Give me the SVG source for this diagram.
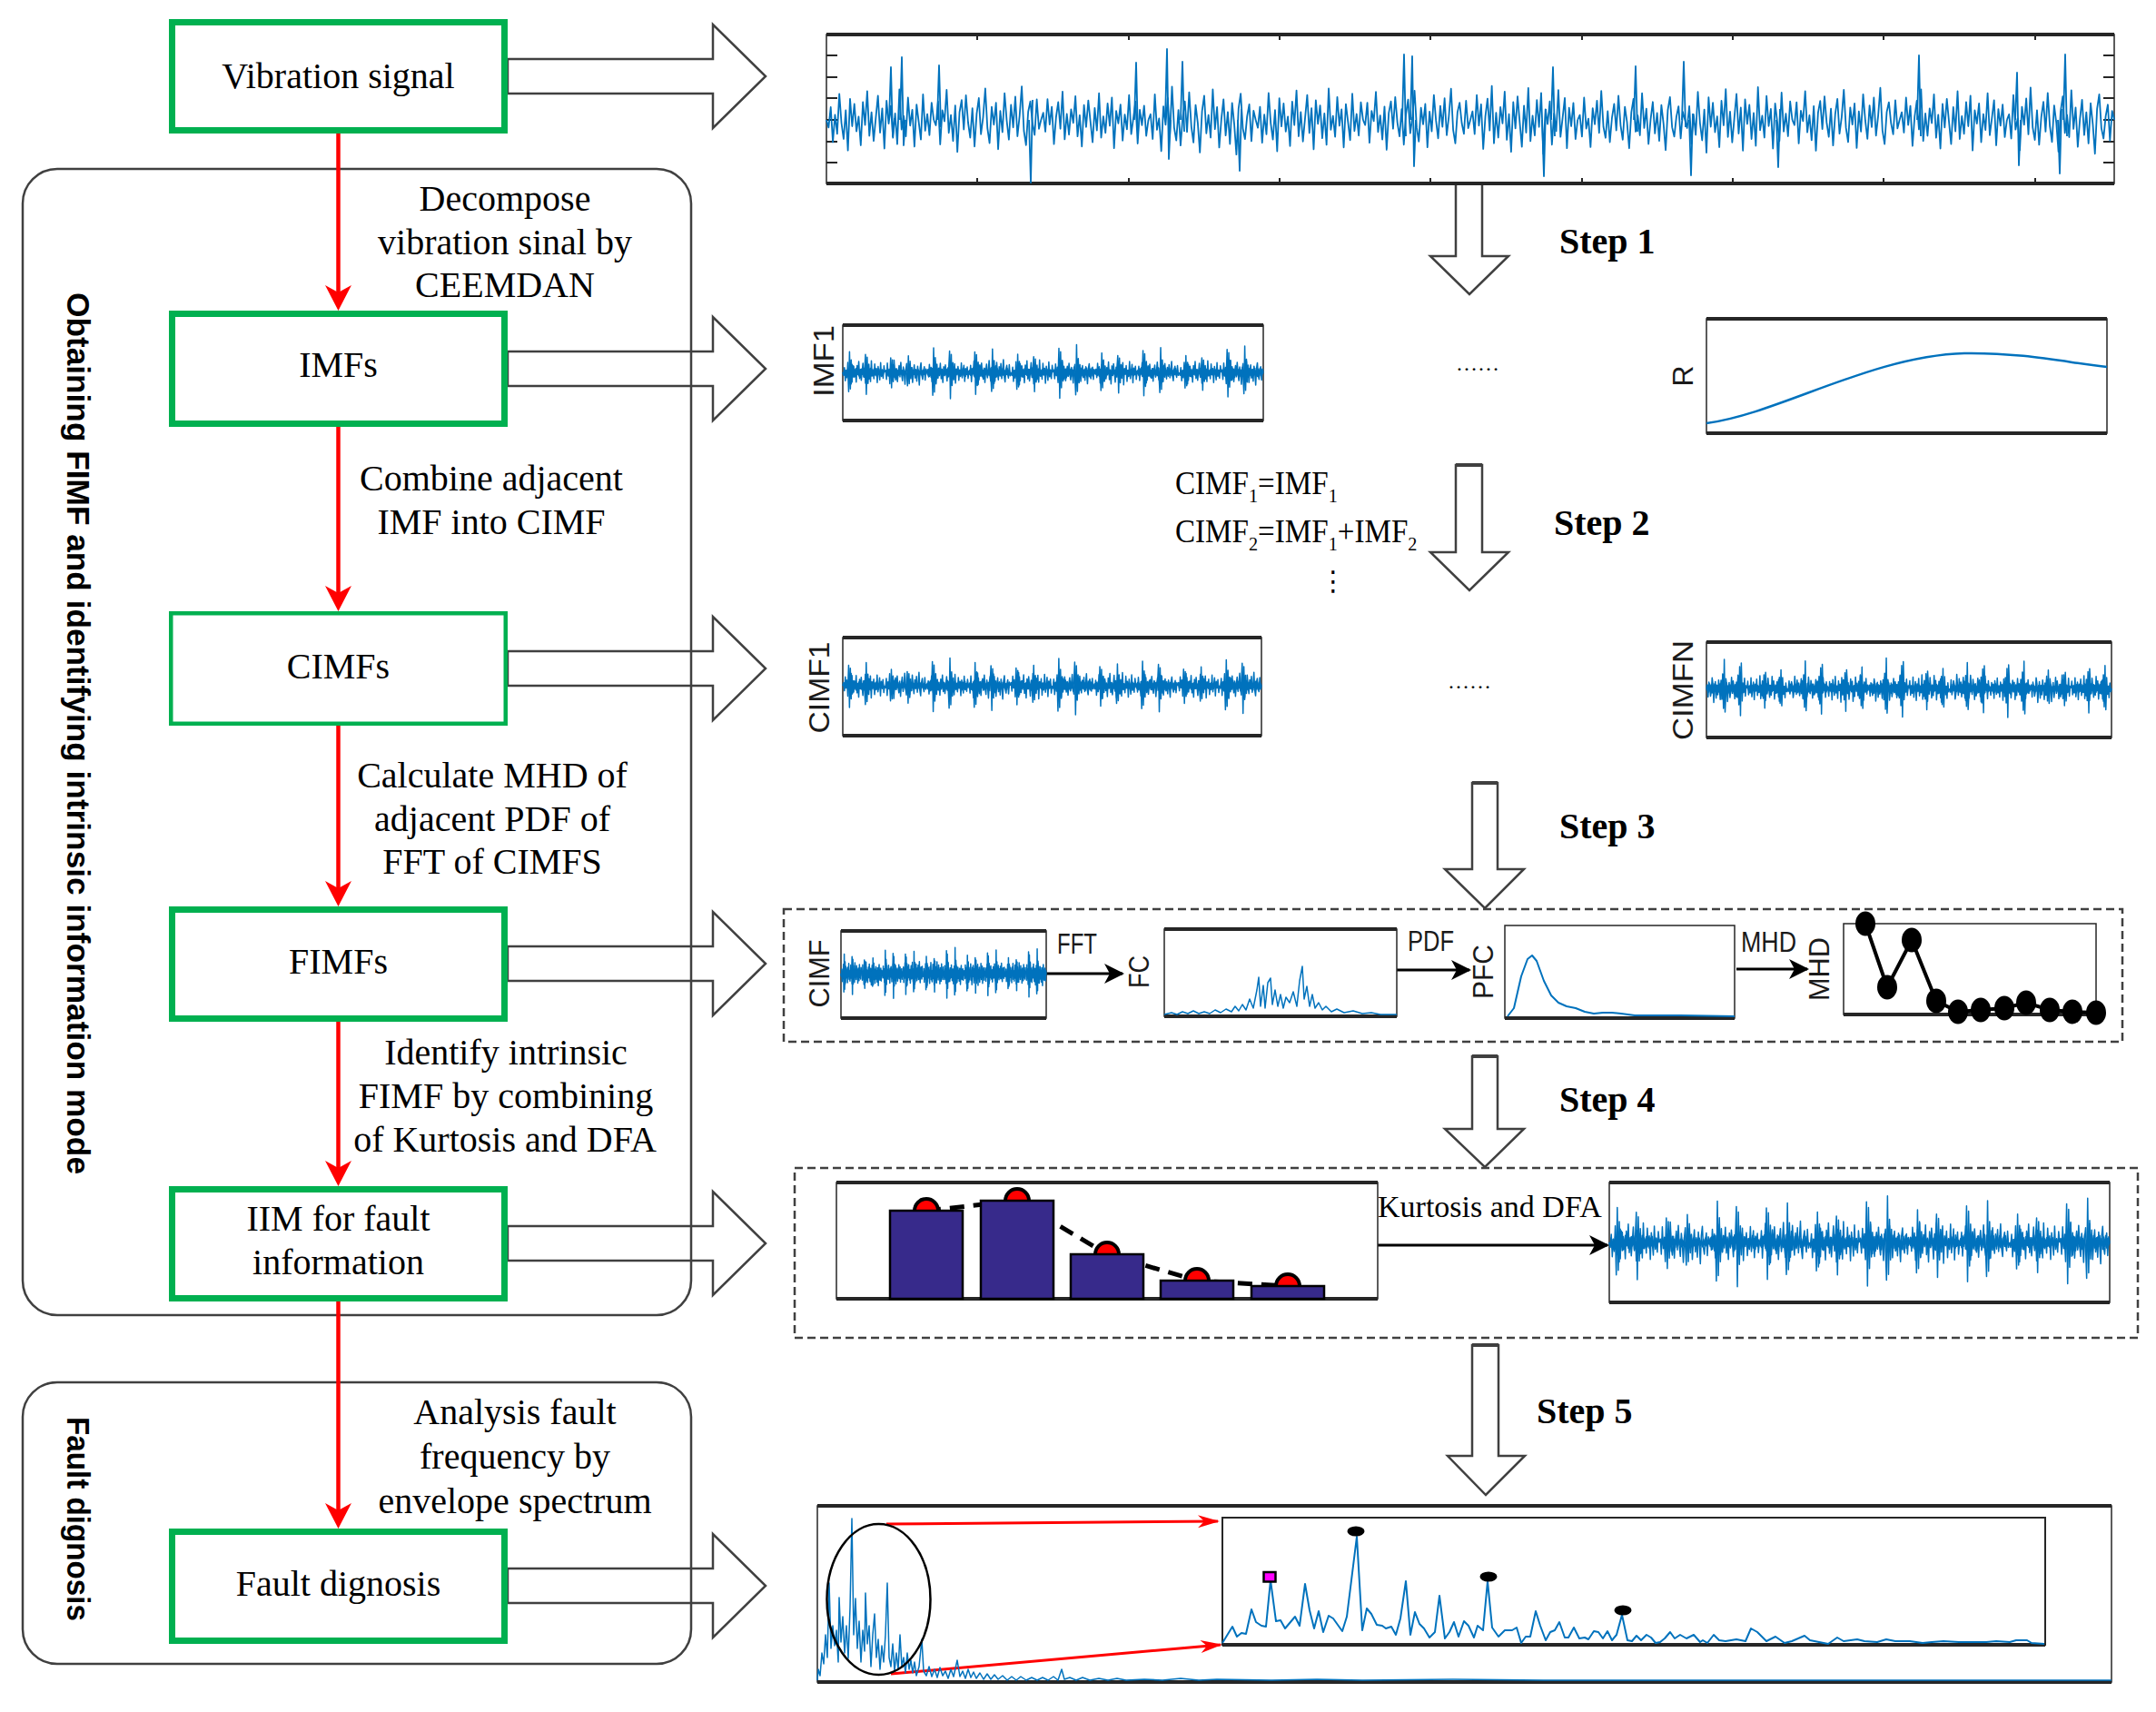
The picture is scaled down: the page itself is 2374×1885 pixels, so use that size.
<svg xmlns="http://www.w3.org/2000/svg" xmlns:xlink="http://www.w3.org/1999/xlink" width="2374" height="1885" viewBox="0 0 2374 1885">
<style>
.gbox{fill:none;stroke:#00B050;stroke-width:7}
.lbl{font-family:"Liberation Serif","Times New Roman",serif;font-size:40px;fill:#000}
.step{font-family:"Liberation Serif","Times New Roman",serif;font-weight:bold;font-size:40px;fill:#000}
.eq{font-family:"Liberation Serif","Times New Roman",serif;font-size:36px;fill:#000}
.vt{font-family:"Liberation Sans",Arial,sans-serif;font-weight:bold;font-size:35px;fill:#000}
.ax{font-family:"Liberation Sans",Arial,sans-serif;font-size:32px;fill:#1a1a1a}
.frame{fill:none;stroke:#262626;stroke-width:1.5}
.thick{stroke:#262626;stroke-width:4}
.sig{fill:none;stroke:#0072BD;stroke-width:1.5;stroke-linejoin:round}
.harrow{fill:none;stroke:#404040;stroke-width:2.5}
.red{stroke:#FF0000;stroke-width:4.5;fill:none}
.dash{fill:none;stroke:#404040;stroke-width:2.5;stroke-dasharray:9 5}
.group{fill:none;stroke:#404040;stroke-width:2.5}
.blk{stroke:#000;stroke-width:3;fill:none}
.bar{fill:#372A8B;stroke:#000;stroke-width:2.5}
.mk{fill:#FF0000;stroke:#000;stroke-width:4}
</style>
<defs>
<marker id="rh" markerUnits="userSpaceOnUse" viewBox="-20 -20 40 40" refX="0" refY="0" markerWidth="40" markerHeight="40" orient="auto" overflow="visible"><path d="M10,0 L-18,-14.5 L-10,0 L-18,14.5 Z" fill="#FF0000"/></marker>
<marker id="bh" markerUnits="userSpaceOnUse" viewBox="-25 -15 30 30" refX="0" refY="0" markerWidth="30" markerHeight="30" orient="auto" overflow="visible"><path d="M2,0 L-20,-11 L-14,0 L-20,11 Z" fill="#000"/></marker>
<marker id="rs" markerUnits="userSpaceOnUse" viewBox="-25 -10 30 20" refX="0" refY="0" markerWidth="30" markerHeight="20" orient="auto" overflow="visible"><path d="M2,0 L-22,-7 L-15,0 L-22,7 Z" fill="#FF0000"/></marker>
<path id="tA" vector-effect="non-scaling-stroke" d="M0,0 L2,12 4,-20 6,35 8,-8 10,22 12,-41 14,5 16,30 18,-15 20,48 22,-33 24,10 26,-25 28,18 30,-5 32,40 34,-28 36,8 38,-45 40,25 42,-12 44,33 46,-3 48,-38 50,20 52,-18 54,45 56,-30 58,6 60,-22 62,28 64,-10 66,38 68,-48 70,15 72,-6 74,26 76,-35 78,9 80,-16 82,42 84,-24 86,3 88,31 90,-40 92,17 94,-9 96,24 98,-27 100,0"/>
<path id="tB" vector-effect="non-scaling-stroke" d="M0,0 L2,-8 4,27 6,-36 8,14 10,-2 12,44 14,-19 16,7 18,-31 20,21 22,-47 24,11 26,29 28,-14 30,36 32,-4 34,-26 36,17 38,-39 40,9 42,32 44,-21 46,4 48,46 50,-12 52,-34 54,19 56,-7 58,25 60,-43 62,13 64,-18 66,39 68,-1 70,-29 72,22 74,-11 76,34 78,-24 80,6 82,49 84,-16 86,-37 88,12 90,27 92,-5 94,-22 96,30 98,-13 100,0"/>
<path id="tC" vector-effect="non-scaling-stroke" d="M0,0 L2,3 4,-4 6,5 8,-3 10,6 12,-5 14,28 16,-30 18,24 20,-18 22,14 24,-10 26,7 28,-5 30,4 32,-6 34,3 36,-4 38,5 40,-3 42,4 44,-5 46,3 48,-4 50,6 52,-5 54,-26 56,32 58,-22 60,16 62,-12 64,9 66,-6 68,5 70,-4 72,3 74,-5 76,4 78,-3 80,5 82,-4 84,3 86,-5 88,4 90,-3 92,5 94,-4 96,3 98,-2 100,0"/>
<g id="dense">
<use href="#tA" transform="translate(0,0) scale(0.5,0.28)"/>
<use href="#tB" transform="translate(50,0) scale(0.5,0.3)"/>
<use href="#tA" transform="translate(100,0) scale(0.5,-0.26)"/>
<use href="#tB" transform="translate(150,0) scale(0.5,-0.3)"/>
<use href="#tA" transform="translate(200,0) scale(0.5,0.3)"/>
<use href="#tB" transform="translate(250,0) scale(0.5,0.27)"/>
<use href="#tA" transform="translate(300,0) scale(0.5,-0.3)"/>
<use href="#tB" transform="translate(350,0) scale(0.5,-0.26)"/>
<use href="#tA" transform="translate(400,0) scale(0.5,0.28)"/>
<use href="#tB" transform="translate(450,0) scale(0.5,0.3)"/>
<use href="#tC" transform="translate(0,0) scale(0.5,0.8)"/>
<use href="#tC" transform="translate(50,0) scale(0.5,-0.6)"/>
<use href="#tC" transform="translate(100,0) scale(0.5,0.95)"/>
<use href="#tC" transform="translate(150,0) scale(0.5,-0.85)"/>
<use href="#tC" transform="translate(200,0) scale(0.5,0.7)"/>
<use href="#tC" transform="translate(250,0) scale(0.5,-1)"/>
<use href="#tC" transform="translate(300,0) scale(0.5,0.75)"/>
<use href="#tC" transform="translate(350,0) scale(0.5,-0.9)"/>
<use href="#tC" transform="translate(400,0) scale(0.5,0.65)"/>
<use href="#tC" transform="translate(450,0) scale(0.5,-0.95)"/>
</g>
</defs>
<rect width="2374" height="1885" fill="#fff"/>

<!-- group frames -->
<g id="group-obtaining">
<rect class="group" x="25" y="186" width="736" height="1262" rx="38"/>
<text class="vt" transform="translate(73.5,807.5) rotate(90)" text-anchor="middle" textLength="971" lengthAdjust="spacingAndGlyphs">Obtaining FIMF and identifying intrinsic information mode</text>
</g>
<g id="group-fault">
<rect class="group" x="25" y="1522" width="736" height="310" rx="38"/>
<text class="vt" transform="translate(73.5,1672.5) rotate(90)" text-anchor="middle" textLength="225" lengthAdjust="spacingAndGlyphs">Fault dignosis</text>
</g>

<!-- connectors -->
<g id="connectors">
<line class="red" x1="372.5" y1="147" x2="372.5" y2="332" marker-end="url(#rh)"/>
<line class="red" x1="372.5" y1="470" x2="372.5" y2="663" marker-end="url(#rh)"/>
<line class="red" x1="372.5" y1="799" x2="372.5" y2="988" marker-end="url(#rh)"/>
<line class="red" x1="372.5" y1="1125" x2="372.5" y2="1296" marker-end="url(#rh)"/>
<line class="red" x1="372.5" y1="1433" x2="372.5" y2="1673" marker-end="url(#rh)"/>
<polygon class="harrow" points="559,65 785,65 785,27 843,84 785,141 785,103 559,103"/>
<polygon class="harrow" points="559,387 785,387 785,349 843,406 785,463 785,425 559,425"/>
<polygon class="harrow" points="559,717 785,717 785,679 843,736 785,793 785,755 559,755"/>
<polygon class="harrow" points="559,1042 785,1042 785,1004 843,1061 785,1118 785,1080 559,1080"/>
<polygon class="harrow" points="559,1350 785,1350 785,1312 843,1369 785,1426 785,1388 559,1388"/>
<polygon class="harrow" points="559,1727 785,1727 785,1689 843,1746 785,1803 785,1765 559,1765"/>
<polygon class="harrow" points="1603,202 1632,202 1632,282 1661,282 1618,324 1575,282 1603,282"/>
<polygon class="harrow" points="1603,512 1632,512 1632,608 1661,608 1618,650 1575,608 1603,608"/>
<polygon class="harrow" points="1621,862 1649,862 1649,957 1678,957 1635,1000 1591,957 1621,957"/>
<polygon class="harrow" points="1621,1163 1649,1163 1649,1243 1678,1243 1635,1285 1591,1243 1621,1243"/>
<polygon class="harrow" points="1621,1481 1650,1481 1650,1603 1679,1603 1636,1646 1594,1603 1621,1603"/>
<line x1="1603" y1="512" x2="1632" y2="512" stroke="#404040" stroke-width="4"/>
<line x1="1621" y1="862" x2="1649" y2="862" stroke="#404040" stroke-width="4"/>
<line x1="1621" y1="1163" x2="1649" y2="1163" stroke="#404040" stroke-width="4"/>
<line x1="1621" y1="1481" x2="1650" y2="1481" stroke="#404040" stroke-width="4"/>
<line class="blk" x1="1152" y1="1072" x2="1236" y2="1072" marker-end="url(#bh)"/>
<line class="blk" x1="1538" y1="1068" x2="1618" y2="1068" marker-end="url(#bh)"/>
<line class="blk" x1="1912" y1="1067" x2="1990" y2="1067" marker-end="url(#bh)"/>
<line class="blk" x1="1517" y1="1371" x2="1770" y2="1371" marker-end="url(#bh)"/>
<line x1="976" y1="1678" x2="1341" y2="1675" stroke="#FF0000" stroke-width="3" marker-end="url(#rs)"/>
<line x1="981" y1="1843" x2="1344" y2="1811" stroke="#FF0000" stroke-width="3" marker-end="url(#rs)"/>
</g>

<!-- left nodes -->
<g id="node-vibration"><rect class="gbox" x="189.5" y="24.5" width="366" height="119"/><text class="lbl" x="372.5" y="97" text-anchor="middle">Vibration signal</text></g>
<g id="node-imfs"><rect class="gbox" x="189.5" y="345.5" width="366" height="121"/><text class="lbl" x="372.5" y="415" text-anchor="middle">IMFs</text></g>
<g id="node-cimfs"><rect class="gbox" style="stroke-width:4.5" x="188.25" y="675.25" width="368.5" height="121.5"/><text class="lbl" x="372.5" y="747" text-anchor="middle">CIMFs</text></g>
<g id="node-fimfs"><rect class="gbox" x="189.5" y="1001.5" width="366" height="120"/><text class="lbl" x="372.5" y="1072" text-anchor="middle">FIMFs</text></g>
<g id="node-iim"><rect class="gbox" x="189.5" y="1309.5" width="366" height="120"/><text class="lbl" x="372.5" y="1355" text-anchor="middle">IIM for fault</text><text class="lbl" x="372.5" y="1403" text-anchor="middle">information</text></g>
<g id="node-fault"><rect class="gbox" x="189.5" y="1686.5" width="366" height="120"/><text class="lbl" x="372.5" y="1757" text-anchor="middle">Fault dignosis</text></g>

<!-- edge labels -->
<g id="edge-labels" class="lbl" text-anchor="middle">
<text x="556" y="232">Decompose</text>
<text x="556" y="280">vibration sinal by</text>
<text x="556" y="327">CEEMDAN</text>
<text x="541" y="540">Combine adjacent</text>
<text x="541" y="588">IMF into CIMF</text>
<text x="542" y="867">Calculate MHD of</text>
<text x="542" y="915">adjacent PDF of</text>
<text x="542" y="962">FFT of CIMFS</text>
<text x="557" y="1172">Identify intrinsic</text>
<text x="557" y="1220">FIMF by combining</text>
<text x="556" y="1268">of Kurtosis and DFA</text>
<text x="567" y="1568">Analysis fault</text>
<text x="567" y="1617">frequency by</text>
<text x="567" y="1666">envelope spectrum</text>
</g>

<!-- step labels -->
<g id="step-labels" class="step">
<text x="1717" y="279">Step 1</text>
<text x="1711" y="589">Step 2</text>
<text x="1717" y="923">Step 3</text>
<text x="1717" y="1224">Step 4</text>
<text x="1692" y="1567">Step 5</text>
</g>

<!-- panel: vibration signal plot -->
<g id="plot-signal">
<rect class="frame" x="910" y="38" width="1418" height="164"/>
<line class="thick" x1="910" y1="38" x2="2328" y2="38"/>
<line class="thick" x1="910" y1="202" x2="2328" y2="202"/>
<path stroke="#262626" stroke-width="2" d="M1076,38v6M1243,38v6M1409,38v6M1575,38v6M1742,38v6M1908,38v6M2074,38v6M2241,38v6M1076,202v-6M1243,202v-6M1409,202v-6M1575,202v-6M1742,202v-6M1908,202v-6M2074,202v-6M2241,202v-6M910,61h12M910,85h12M910,108h12M910,132h12M910,156h12M910,179h12M2328,61h-12M2328,85h-12M2328,108h-12M2328,132h-12M2328,156h-12M2328,179h-12"/>
<g class="sig" style="stroke-width:1.8">
<use href="#tA" transform="translate(910,132) scale(1.1817,0.7)"/>
<use href="#tB" transform="translate(1028.17,132) scale(1.1817,-0.75)"/>
<use href="#tA" transform="translate(1146.34,132) scale(1.1817,-0.65)"/>
<use href="#tB" transform="translate(1264.51,132) scale(1.1817,0.78)"/>
<use href="#tA" transform="translate(1382.68,132) scale(1.1817,0.72)"/>
<use href="#tB" transform="translate(1500.85,132) scale(1.1817,-0.7)"/>
<use href="#tA" transform="translate(1619.02,132) scale(1.1817,-0.78)"/>
<use href="#tB" transform="translate(1737.19,132) scale(1.1817,0.68)"/>
<use href="#tA" transform="translate(1855.36,132) scale(1.1817,0.75)"/>
<use href="#tB" transform="translate(1973.53,132) scale(1.1817,-0.72)"/>
<use href="#tA" transform="translate(2091.7,132) scale(1.1817,-0.7)"/>
<use href="#tB" transform="translate(2209.87,132) scale(1.1817,0.76)"/>
<path d="M979,132 L981,74 L983,150 L985,130 M991,132 L993,63 L995,160 L997,132 M1032,132 L1034,72 L1036,140 M1133,132 L1135,201 L1137,110 M1249,132 L1251,69 L1253,150 M1283,132 L1285,54 L1287,175 L1289,132 M1300,132 L1302,68 L1304,145 M1363,132 L1365,188 L1367,120 M1544,132 L1546,60 L1548,150 M1553,132 L1555,62 L1557,183 L1559,132 M1698,132 L1700,194 L1702,120 M1708,132 L1710,74 L1712,150 M1799,132 L1801,73 L1803,145 M1852,132 L1854,68 L1856,140 M1860,132 L1862,193 L1864,125 M1956,132 L1958,184 L1960,120 M2111,132 L2113,61 L2115,150 M2219,132 L2221,80 L2223,182 L2225,132 M2266,132 L2268,191 L2270,120 M2272,132 L2274,60 L2276,150"/>
</g>
</g>

<!-- panel: IMF1 -->
<g id="plot-imf1">
<rect class="frame" x="928" y="358" width="463" height="105"/>
<line class="thick" x1="928" y1="358" x2="1391" y2="358"/>
<line class="thick" x1="928" y1="463" x2="1391" y2="463"/>
<use href="#dense" class="sig" transform="translate(928,410) scale(0.926,0.95)"/>
<text class="ax" transform="translate(918,397.5) rotate(-90)" text-anchor="middle" textLength="79" lengthAdjust="spacingAndGlyphs">IMF1</text>
</g>
<text id="dots1" x="1603" y="408" font-family="Liberation Serif, serif" font-size="24">……</text>
<g id="plot-r">
<rect class="frame" x="1879" y="351" width="441" height="126"/>
<line class="thick" x1="1879" y1="351" x2="2320" y2="351"/>
<line class="thick" x1="1879" y1="477" x2="2320" y2="477"/>
<path class="sig" style="stroke-width:2.5" d="M1879,466 C1960,455 2060,392 2163,389 C2230,388 2280,400 2320,404"/>
<text class="ax" transform="translate(1864,414) rotate(-90)" text-anchor="middle">R</text>
</g>

<!-- equations -->
<g id="equations">
<text class="eq" transform="translate(1294,544) scale(0.92,1)">CIMF<tspan font-size="22" dy="9">1</tspan><tspan dy="-9">=IMF</tspan><tspan font-size="22" dy="9">1</tspan></text>
<text class="eq" transform="translate(1294,597) scale(0.92,1)">CIMF<tspan font-size="22" dy="9">2</tspan><tspan dy="-9">=IMF</tspan><tspan font-size="22" dy="9">1</tspan><tspan dy="-9">+IMF</tspan><tspan font-size="22" dy="9">2</tspan></text>
<text x="1468" y="650" font-family="DejaVu Sans, sans-serif" font-size="30" text-anchor="middle">⋮</text>
</g>

<!-- panel: CIMF1 / CIMFN -->
<g id="plot-cimf1">
<rect class="frame" x="928" y="702" width="461" height="108"/>
<line class="thick" x1="928" y1="702" x2="1389" y2="702"/>
<line class="thick" x1="928" y1="810" x2="1389" y2="810"/>
<use href="#dense" class="sig" transform="translate(928,755) scale(0.922,-1.0)"/>
<text class="ax" transform="translate(913,757) rotate(-90)" text-anchor="middle" textLength="101" lengthAdjust="spacingAndGlyphs">CIMF1</text>
</g>
<text id="dots2" x="1594" y="758" font-family="Liberation Serif, serif" font-size="24">……</text>
<g id="plot-cimfn">
<rect class="frame" x="1879" y="707" width="446" height="105"/>
<line class="thick" x1="1879" y1="707" x2="2325" y2="707"/>
<line class="thick" x1="1879" y1="812" x2="2325" y2="812"/>
<use href="#dense" class="sig" transform="translate(2325,758) scale(-0.892,1.05)"/>
<text class="ax" transform="translate(1864,760) rotate(-90)" text-anchor="middle" textLength="110" lengthAdjust="spacingAndGlyphs">CIMFN</text>
</g>

<!-- step 3 panel -->
<g id="panel-step3">
<rect class="dash" x="863" y="1001" width="1474" height="146"/>
<rect class="frame" x="926" y="1025" width="226" height="96"/>
<line class="thick" x1="926" y1="1025" x2="1152" y2="1025"/>
<line class="thick" x1="926" y1="1121" x2="1152" y2="1121"/>
<use href="#dense" class="sig" transform="translate(926,1072) scale(0.452,0.9)"/>
<text class="ax" transform="translate(913,1072) rotate(-90)" text-anchor="middle" textLength="75" lengthAdjust="spacingAndGlyphs">CIMF</text>
<text class="ax" x="1164" y="1050" textLength="44" lengthAdjust="spacingAndGlyphs">FFT</text>
<text class="ax" transform="translate(1265,1070) rotate(-90)" text-anchor="middle" textLength="36" lengthAdjust="spacingAndGlyphs">FC</text>
<rect class="frame" x="1282" y="1023" width="256" height="96"/>
<line class="thick" x1="1282" y1="1023" x2="1538" y2="1023"/>
<line class="thick" x1="1282" y1="1119" x2="1538" y2="1119"/>
<polyline class="sig" points="1282,1117 1290,1115 1296,1117 1302,1114 1308,1116 1314,1113 1320,1116 1326,1114 1332,1116 1338,1112 1344,1115 1350,1111 1356,1114 1360,1108 1364,1113 1368,1106 1372,1112 1376,1100 1380,1110 1384,1090 1386,1076 1388,1108 1391,1085 1393,1110 1396,1082 1399,1077 1401,1106 1404,1090 1407,1108 1410,1095 1413,1110 1416,1098 1420,1104 1424,1092 1428,1108 1431,1080 1434,1064 1436,1100 1439,1086 1442,1108 1445,1095 1448,1110 1452,1104 1456,1112 1460,1108 1466,1114 1472,1111 1480,1115 1490,1113 1500,1116 1510,1115 1520,1117 1538,1117"/>
<text class="ax" x="1550" y="1047" textLength="51" lengthAdjust="spacingAndGlyphs">PDF</text>
<text class="ax" transform="translate(1644,1070) rotate(-90)" text-anchor="middle" textLength="60" lengthAdjust="spacingAndGlyphs">PFC</text>
<rect class="frame" x="1657" y="1019" width="253" height="102"/>
<line class="thick" x1="1657" y1="1121" x2="1910" y2="1121"/>
<polyline class="sig" style="stroke-width:2" points="1660,1119 1667,1110 1675,1075 1682,1056 1687,1052 1692,1058 1700,1080 1708,1096 1716,1104 1725,1108 1735,1110 1745,1114 1755,1116 1765,1115 1775,1115 1785,1116 1800,1118 1850,1118 1910,1119"/>
<text class="ax" x="1917" y="1048" textLength="61" lengthAdjust="spacingAndGlyphs">MHD</text>
<text class="ax" transform="translate(2014,1067) rotate(-90)" text-anchor="middle" textLength="70" lengthAdjust="spacingAndGlyphs">MHD</text>
<rect class="frame" x="2030" y="1017" width="278" height="100"/>
<line class="thick" x1="2030" y1="1117" x2="2308" y2="1117"/>
<polyline fill="none" stroke="#000" stroke-width="4" points="2054,1017 2078,1087 2105,1035 2132,1102 2156,1114 2181,1112 2207,1110 2231,1104 2257,1112 2282,1114 2308,1115"/>
<g fill="#000">
<ellipse cx="2054" cy="1017" rx="11" ry="13.5"/><ellipse cx="2078" cy="1087" rx="11" ry="13.5"/><ellipse cx="2105" cy="1035" rx="11" ry="13.5"/><ellipse cx="2132" cy="1102" rx="11" ry="13.5"/><ellipse cx="2156" cy="1114" rx="11" ry="13.5"/><ellipse cx="2181" cy="1112" rx="11" ry="13.5"/><ellipse cx="2207" cy="1110" rx="11" ry="13.5"/><ellipse cx="2231" cy="1104" rx="11" ry="13.5"/><ellipse cx="2257" cy="1112" rx="11" ry="13.5"/><ellipse cx="2282" cy="1114" rx="11" ry="13.5"/><ellipse cx="2308" cy="1115" rx="11" ry="13.5"/>
</g>
</g>

<!-- step 4 panel -->
<g id="panel-step4">
<rect class="dash" x="875" y="1286" width="1479" height="187"/>
<rect class="frame" x="921" y="1302" width="596" height="128"/>
<line class="thick" x1="921" y1="1302" x2="1517" y2="1302"/>
<line class="thick" x1="921" y1="1430" x2="1517" y2="1430"/>
<path fill="none" stroke="#000" stroke-width="5" stroke-dasharray="16 10" d="M1020,1333 L1120,1322 L1219,1381 L1318,1410 L1418,1416"/>
<circle class="mk" cx="1020" cy="1333" r="13"/>
<circle class="mk" cx="1120" cy="1322" r="13"/>
<circle class="mk" cx="1219" cy="1381" r="13"/>
<circle class="mk" cx="1318" cy="1410" r="13"/>
<circle class="mk" cx="1418" cy="1416" r="13"/>
<rect class="bar" x="980" y="1333" width="80" height="97"/>
<rect class="bar" x="1080" y="1322" width="80" height="108"/>
<rect class="bar" x="1179" y="1381" width="80" height="49"/>
<rect class="bar" x="1278" y="1410" width="80" height="20"/>
<rect class="bar" x="1378" y="1416" width="80" height="14"/>
<text x="1517" y="1340" font-family="Liberation Serif, serif" font-size="34">Kurtosis and DFA</text>
<rect class="frame" x="1772" y="1302" width="551" height="132"/>
<line class="thick" x1="1772" y1="1302" x2="2323" y2="1302"/>
<line class="thick" x1="1772" y1="1434" x2="2323" y2="1434"/>
<use href="#dense" class="sig" transform="translate(1772,1368) scale(1.102,1.6)"/>
</g>

<!-- step 5 panel -->
<g id="panel-step5">
<rect class="frame" x="900" y="1658" width="1425" height="194"/>
<line class="thick" x1="900" y1="1658" x2="2325" y2="1658"/>
<line class="thick" x1="900" y1="1852" x2="2325" y2="1852"/>
<path class="sig" d="M900,1850 L901,1838 903,1845 905,1820 907,1832 909,1800 911,1825 913,1743 915,1815 917,1790 919,1812 921,1795 923,1830 924,1759 926,1808 928,1780 930,1820 932,1790 934,1826 936,1770 938,1672 940,1800 942,1760 944,1815 946,1785 948,1830 950,1795 952,1818 953,1754 955,1810 957,1790 959,1835 961,1800 963,1777 965,1825 967,1805 969,1838 971,1812 973,1830 975,1800 977,1743 979,1825 981,1835 983,1810 985,1840 987,1820 989,1838 991,1800 993,1835 995,1825 997,1842 999,1820 1001,1838 1003,1828 1005,1842 1007,1830 1009,1845 1012,1835 1015,1805 1017,1840 1020,1845 1023,1835 1026,1846 1029,1838 1032,1847 1035,1836 1038,1845 1041,1840 1044,1848 1047,1838 1050,1846 1054,1828 1057,1846 1060,1840 1063,1848 1066,1838 1069,1847 1072,1841 1075,1848 1079,1842 1083,1849 1087,1843 1091,1849 1095,1844 1099,1849 1104,1845 1109,1850 1114,1846 1119,1850 1124,1846 1130,1850 1136,1847 1142,1850 1148,1847 1154,1850 1160,1846 1165,1850 1169,1838 1172,1849 1178,1847 1185,1850 1192,1847 1200,1850 1210,1848 1220,1850 1230,1848 1240,1850 1260,1849 1280,1850 1300,1848 1320,1850 1340,1849 1400,1850 1450,1849 1500,1850 1600,1849 1700,1850 2325,1850"/>
<ellipse cx="967.5" cy="1761" rx="57" ry="83" fill="none" stroke="#000" stroke-width="2.5"/>
<rect x="1346" y="1671" width="906" height="140" fill="#fff" stroke="#262626" stroke-width="2"/>
<line class="thick" x1="1346" y1="1811" x2="2252" y2="1811"/>
<polyline class="sig" style="stroke-width:2" points="1346,1809 1357,1791 1362,1802 1367,1798 1372,1799 1378,1772 1383,1786 1389,1790 1394,1791 1399,1740 1405,1785 1410,1784 1415,1793 1426,1780 1431,1790 1437,1744 1442,1773 1447,1793 1452,1774 1457,1797 1463,1779 1468,1782 1478,1796 1483,1780 1494,1692 1500,1795 1505,1771 1510,1777 1516,1789 1522,1790 1526,1793 1532,1791 1537,1800 1542,1782 1548,1741 1553,1800 1558,1775 1563,1788 1568,1793 1574,1803 1580,1797 1585,1757 1591,1804 1596,1797 1601,1786 1606,1802 1612,1785 1617,1790 1623,1803 1627,1790 1633,1795 1638,1741 1643,1792 1650,1802 1657,1795 1665,1795 1670,1792 1675,1809 1680,1802 1685,1802 1691,1774 1696,1790 1702,1806 1707,1797 1712,1795 1717,1786 1723,1803 1727,1803 1733,1792 1739,1804 1745,1803 1749,1805 1755,1796 1760,1797 1765,1804 1770,1796 1775,1806 1780,1800 1786,1778 1792,1806 1797,1807 1802,1801 1807,1806 1813,1800 1818,1803 1823,1809 1828,1808 1833,1804 1839,1797 1844,1804 1850,1800 1857,1804 1865,1800 1872,1808 1875,1806 1880,1809 1887,1800 1893,1806 1900,1807 1912,1805 1922,1807 1928,1793 1935,1797 1945,1807 1955,1802 1965,1809 1973,1807 1987,1801 1993,1806 2013,1810 2023,1803 2030,1807 2045,1805 2053,1807 2067,1808 2077,1805 2087,1807 2103,1807 2117,1809 2127,1808 2140,1807 2157,1808 2173,1808 2187,1808 2198,1807 2213,1808 2220,1806 2232,1806 2237,1809 2251,1810"/>
<rect x="1391.5" y="1731" width="13" height="10.5" fill="#FF00FF" stroke="#000" stroke-width="2.5"/>
<ellipse cx="1493" cy="1686" rx="9.5" ry="5.5" fill="#000"/>
<ellipse cx="1639" cy="1736" rx="9.5" ry="5.5" fill="#000"/>
<ellipse cx="1787" cy="1773" rx="9.5" ry="5.5" fill="#000"/>
</g>
</svg>
